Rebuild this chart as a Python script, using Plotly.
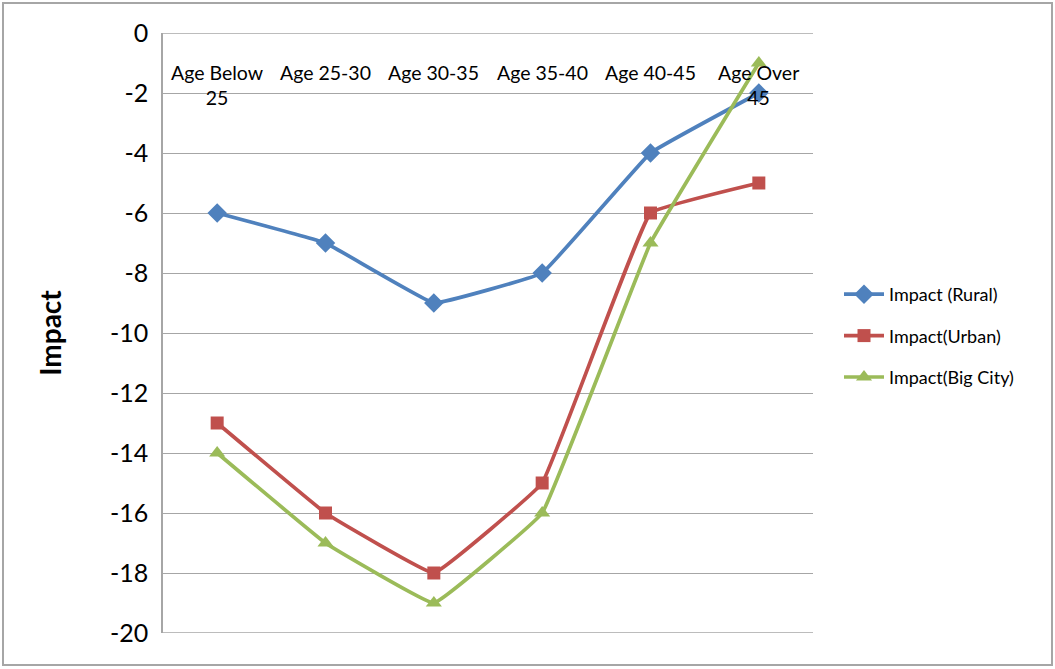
import plotly.graph_objects as go

# Age groups (line breaks as shown on the category axis)
categories = ["Age Below<br>25", "Age 25-30", "Age 30-35", "Age 35-40", "Age 40-45", "Age Over<br>45"]

rural = [-6, -7, -9, -8, -4, -2]
urban = [-13, -16, -18, -15, -6, -5]
big_city = [-14, -17, -19, -16, -7, -1]

y_ticks = [0, -2, -4, -6, -8, -10, -12, -14, -16, -18, -20]

FONT = "Lato, 'Open Sans', sans-serif"
x_idx = list(range(len(categories)))

fig = go.Figure()

series = [
    ("Impact (Rural)", rural, "#4F81BD", "diamond", 15),
    ("Impact(Urban)", urban, "#C0504D", "square", 13),
    ("Impact(Big City)", big_city, "#9BBB59", "triangle-up", 14),
]
for name, vals, color, symbol, msize in series:
    fig.add_trace(go.Scatter(
        x=x_idx, y=vals, name=name, mode="lines+markers", legendgroup=name,
        line=dict(color=color, width=3.7, shape="spline", smoothing=0.2),
        marker=dict(symbol=symbol, size=msize, color=color),
    ))

# Category labels sit just below the top (zero) line, inside the plot area
for i, lab in enumerate(categories):
    fig.add_annotation(
        x=i, y=0, xref="x", yref="y", text=lab, showarrow=False,
        yanchor="top", yshift=-26, align="center",
        font=dict(family=FONT, size=19.5, color="#000000"),
    )

# Outer chart frame
L, T, W, H = 163, 33, 650, 600
fig.add_shape(
    type="rect", xref="paper", yref="paper",
    x0=(3 - L) / W, x1=(1052 - L) / W,
    y0=1 - (665 - T) / H, y1=1 - (3 - T) / H,
    line=dict(color="#A6A6A6", width=2), layer="below",
)

fig.update_layout(
    width=1055, height=669,
    margin=dict(l=L, r=1055 - L - W, t=T, b=669 - T - H),
    paper_bgcolor="white", plot_bgcolor="white",
    showlegend=True,
    legend=dict(
        x=1.04, y=0.495, xanchor="left", yanchor="middle",
        font=dict(family=FONT, size=18, color="#000000"),
        tracegroupgap=15, itemwidth=40, traceorder="grouped",
        bgcolor="rgba(0,0,0,0)",
    ),
    xaxis=dict(
        range=[-0.5, 5.5], showticklabels=False, showgrid=False,
        zeroline=False, showline=False, fixedrange=True,
    ),
    yaxis=dict(
        range=[-20, 0], tickvals=y_ticks, ticktext=[str(v) for v in y_ticks],
        showgrid=True, gridcolor="#A6A6A6", gridwidth=1.3,
        zeroline=False, showline=True, linecolor="#A6A6A6", linewidth=1.5,
        mirror=False, ticks="", ticklabelstandoff=8,
        tickfont=dict(family=FONT, size=25, color="#000000"),
        title=dict(text="<b>Impact</b>", standoff=40,
                   font=dict(family=FONT, size=28, color="#000000")),
    ),
)

# Frame lines for the plot area (top at zero and bottom at -20)
fig.add_shape(type="line", xref="paper", yref="y", x0=0, x1=1, y0=0, y1=0,
              line=dict(color="#A6A6A6", width=1.5), layer="below")
fig.add_shape(type="line", xref="paper", yref="y", x0=0, x1=1, y0=-20, y1=-20,
              line=dict(color="#A6A6A6", width=1.5), layer="below")

fig.write_html("out.html")
